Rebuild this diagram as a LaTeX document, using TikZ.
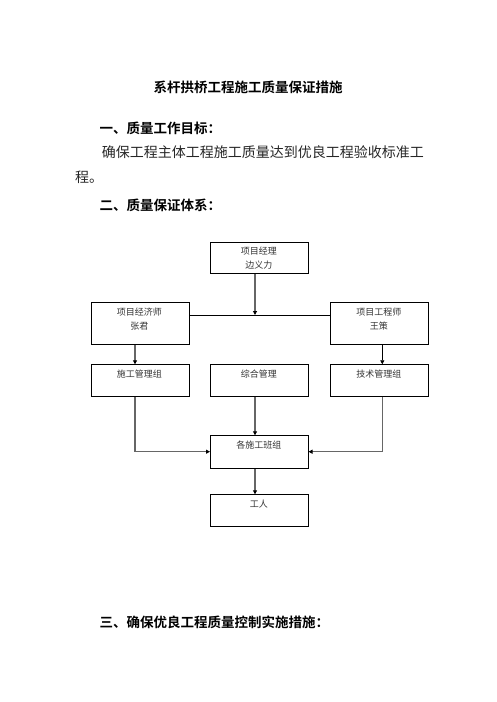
\documentclass[tikz,border=0pt]{standalone}
\usepackage{fontspec}
\newfontfamily\cjk{Noto Sans CJK SC}
\newfontfamily\cjkb{Noto Sans CJK SC Bold}
\usetikzlibrary{arrows.meta}
\begin{document}
\begin{tikzpicture}[x=1pt,y=-1pt,
  box/.style={draw,line width=0.8pt,minimum width=97.7pt,anchor=north west,inner sep=0pt},
  boxtxt/.style={font=\cjk\fontsize{9}{14}\selectfont,align=center,anchor=center,inner sep=0pt,text=black!80},
  head/.style={font=\cjkb\fontsize{13.5}{16}\selectfont,anchor=west,inner sep=0pt},
  body/.style={font=\cjk\fontsize{14}{26}\selectfont,anchor=west,inner sep=0pt,text=black!85},
  gline/.style={draw=black!60,line width=1.5pt},
  bline/.style={draw=black,line width=0.7pt},
  tip/.style={-{Triangle[length=4pt,width=4pt,color=black]}}]
\useasboundingbox (0,0) rectangle (496,702);
% texts
\node[font=\cjkb\fontsize{13.5}{16}\selectfont,inner sep=0pt] (title) at (248,87.3) {系杆拱桥工程施工质量保证措施};
\node[head] (h1) at (99.3,128.3) {一、质量工作目标：};
\node[body] (p1) at (101.7,151.7) {确保工程主体工程施工质量达到优良工程验收标准工};
\node[body] (p2) at (75,177.3) {程。};
\node[head] (h2) at (99.3,205) {二、质量保证体系：};
\node[head] (h3) at (99.3,622.7) {三、确保优良工程质量控制实施措施：};
% boxes
\node[box,minimum height=31.6pt] (pm) at (210,241.7) {};
\node[boxtxt] (pmt) at (258.8,257.6) {项目经理\\边义力};
\node[box,minimum height=42pt] (ec) at (91,302.3) {};
\node[boxtxt] (ect) at (139.3,318.7) {项目经济师\\张君};
\node[box,minimum height=42pt] (en) at (330,302.3) {};
\node[boxtxt] (ent) at (378.8,318.7) {项目工程师\\王策};
\node[box,minimum height=31.7pt] (sg) at (91,364.3) {};
\node[boxtxt] (sgt) at (139.3,374) {施工管理组};
\node[box,minimum height=31.7pt] (zh) at (210,364.3) {};
\node[boxtxt] (zht) at (258.8,374) {综合管理};
\node[box,minimum height=31.7pt] (js) at (330,364.3) {};
\node[boxtxt] (jst) at (378.8,374) {技术管理组};
\node[box,minimum height=33pt] (bz) at (210,435.3) {};
\node[boxtxt] (bzt) at (258.8,444.7) {各施工班组};
\node[box,minimum height=32pt] (gr) at (210,494.3) {};
\node[boxtxt] (grt) at (258.8,504) {工人};
% junctions
\coordinate (j) at (255,315);
\coordinate (xl) at (135,0);
\coordinate (xr) at (382.3,0);
\coordinate (xm) at (255,0);
\coordinate (yb) at (0,451.7);
% connectors
\draw[bline] (ec.east |- j) -- (en.west |- j);
\draw[gline,tip] (pm.south -| j) -- (j);
\draw[gline,tip] (ec.south -| xl) -- (sg.north -| xl);
\draw[bline,tip] (en.south -| xr) -- (js.north -| xr);
\draw[gline,tip] (zh.south -| xm) -- (bz.north -| xm);
\draw[gline,tip] (sg.south -| xl) -- (xl |- yb) -- (bz.west |- yb);
\draw[gline,tip] (js.south -| xr) -- (xr |- yb) -- (bz.east |- yb);
\draw[gline,tip] (bz.south -| xm) -- (gr.north -| xm);
\end{tikzpicture}
\end{document}
